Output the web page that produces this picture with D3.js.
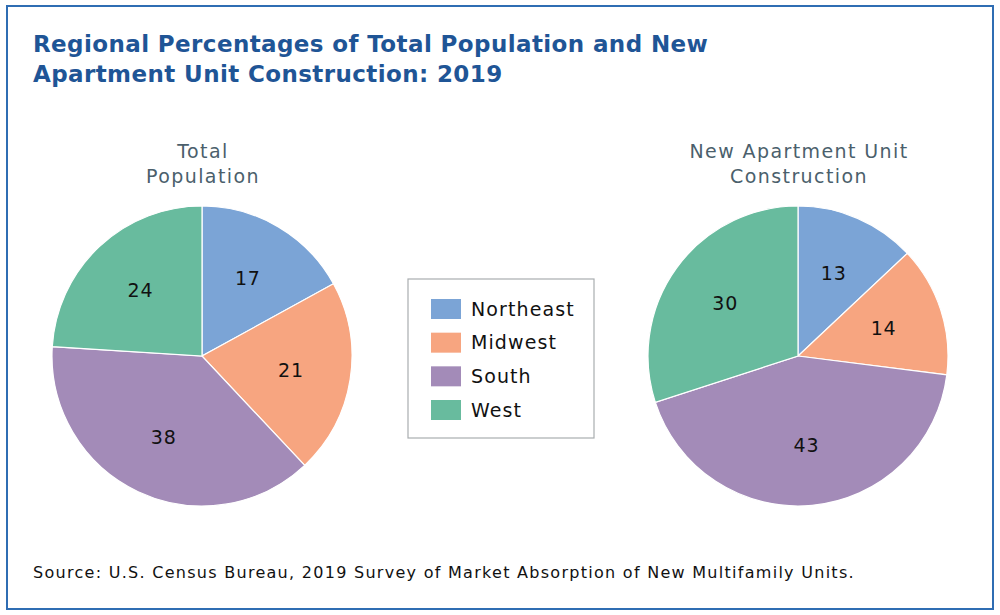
<!DOCTYPE html>
<html>
<head>
<meta charset="utf-8">
<script src="https://cdn.jsdelivr.net/npm/d3@7"></script>
<style>
  body { margin: 0; background: #fff; }
  text { font-family: "DejaVu Sans", sans-serif; }
</style>
</head>
<body>
<svg id="chart"></svg>
<script>
const regions = ["Northeast", "Midwest", "South", "West"];
const populationValues = [17, 21, 38, 24];
const constructionValues = [13, 14, 43, 30];
const regionColors = ["#7ba4d6", "#f7a580", "#a38bb8", "#68bb9e"];
const titleLines = ["Regional Percentages of Total Population and New", "Apartment Unit Construction: 2019"];
const pieTitles = [["Total", "Population"], ["New Apartment Unit", "Construction"]];
const sourceText = "Source: U.S. Census Bureau, 2019 Survey of Market Absorption of New Multifamily Units.";

const width = 1000, height = 615;
const svg = d3.select("#chart").attr("width", width).attr("height", height);

const color = d3.scaleOrdinal().domain(regions).range(regionColors);

// frame
svg.append("rect")
    .attr("x", 7).attr("y", 6)
    .attr("width", 986).attr("height", 603)
    .attr("fill", "none")
    .attr("stroke", "#2f6db3")
    .attr("stroke-width", 2);

// title
svg.append("text")
    .attr("x", 33).attr("y", 52)
    .attr("fill", "#1f5596")
    .style("font-size", "23px")
    .style("font-weight", "bold")
    .style("letter-spacing", "0.4px")
    .selectAll("tspan")
    .data(titleLines)
    .join("tspan")
    .attr("x", 33)
    .attr("dy", (d, i) => i === 0 ? 0 : 30)
    .text(d => d);

const radius = 150;
const pie = d3.pie().sort(null).value(d => d.value);
const arc = d3.arc().innerRadius(0).outerRadius(radius);
const labelArc = d3.arc().innerRadius(radius * 0.6).outerRadius(radius * 0.6);

const pies = [
    { cx: 202, values: populationValues, title: pieTitles[0] },
    { cx: 798, values: constructionValues, title: pieTitles[1] }
];

pies.forEach(p => {
    const data = regions.map((r, i) => ({ region: r, value: p.values[i] }));

    svg.append("text")
        .attr("text-anchor", "middle")
        .attr("fill", "#4b5f6c")
        .style("font-size", "19px")
        .style("letter-spacing", "1.4px")
        .selectAll("tspan")
        .data(p.title)
        .join("tspan")
        .attr("x", p.cx + 1)
        .attr("y", (d, i) => 158 + i * 25)
        .text(d => d);

    const g = svg.append("g").attr("transform", `translate(${p.cx},356)`);
    const slices = pie(data);

    g.selectAll("path")
        .data(slices)
        .join("path")
        .attr("d", arc)
        .attr("fill", d => color(d.data.region))
        .attr("stroke", "white")
        .attr("stroke-width", 1.2);

    g.selectAll("text")
        .data(slices)
        .join("text")
        .attr("transform", d => `translate(${labelArc.centroid(d)})`)
        .attr("text-anchor", "middle")
        .attr("dy", "0.35em")
        .attr("fill", "#111")
        .style("font-size", "19px")
        .style("letter-spacing", "0.8px")
        .text(d => d.data.value);
});

// legend
const legend = svg.append("g").attr("transform", "translate(408,279)");
legend.append("rect")
    .attr("width", 186).attr("height", 159)
    .attr("fill", "white")
    .attr("stroke", "#a9adb0")
    .attr("stroke-width", 1.2);

const legendY = d3.scalePoint().domain(regions).range([30, 131]);
const items = legend.selectAll("g.item")
    .data(regions)
    .join("g")
    .attr("class", "item")
    .attr("transform", d => `translate(0,${legendY(d)})`);

items.append("rect")
    .attr("x", 23).attr("y", -10)
    .attr("width", 30).attr("height", 20)
    .attr("fill", d => color(d));

items.append("text")
    .attr("x", 63).attr("dy", "0.35em")
    .attr("fill", "#111")
    .style("font-size", "19px")
    .style("letter-spacing", "1.1px")
    .text(d => d);

// source
svg.append("text")
    .attr("x", 33).attr("y", 578)
    .attr("fill", "#111")
    .style("font-size", "16px")
    .style("letter-spacing", "1.28px")
    .text(sourceText);
</script>
</body>
</html>
